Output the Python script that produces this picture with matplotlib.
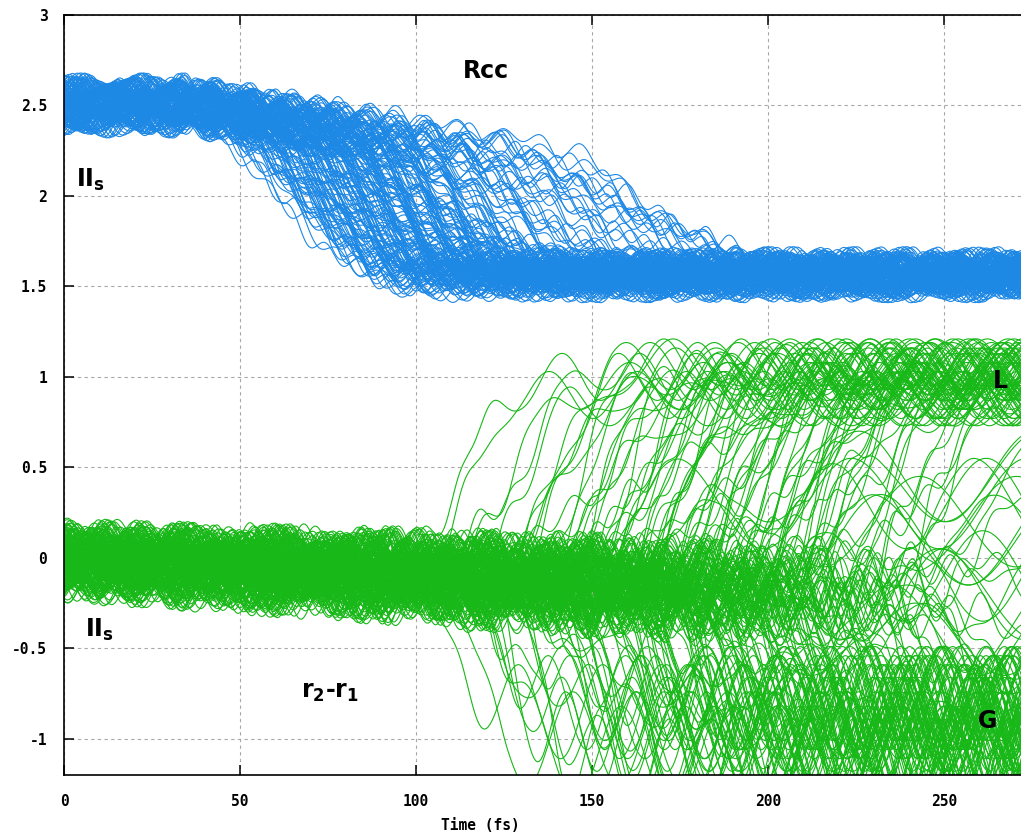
import numpy as np
import matplotlib
matplotlib.use('Agg')
import matplotlib.pyplot as plt

plt.rcParams['mathtext.fontset'] = 'dejavusans'

# time axis of the trajectories (fs)
t = np.arange(0, 272.5, 0.5)

# --- Rcc bundle (blue): onset of the C-C stretch drop and how long it takes (fs)
rcc_onset = [30, 33, 35, 37, 38, 40, 41, 42, 43, 44,
             45, 46, 47, 48, 49, 50, 51, 52, 53, 54,
             55, 56, 57, 58, 59, 60, 61, 62, 63, 64,
             65, 66, 67, 68, 69, 70, 71, 72, 73, 74,
             75, 76, 77, 78, 80, 82, 84, 86, 88, 90,
             92, 95, 98, 101, 105, 110, 115, 120, 127, 135]
rcc_width = [62, 60, 62, 58, 60, 60, 55, 62, 58, 60,
             55, 60, 58, 62, 55, 60, 58, 55, 62, 60,
             58, 55, 60, 62, 58, 55, 60, 58, 62, 55,
             60, 58, 55, 60, 62, 58, 55, 60, 58, 62,
             60, 58, 62, 60, 58, 62, 60, 65, 62, 60,
             65, 68, 70, 72, 85, 80, 100, 85, 95, 65]
rcc_high = [0.08, -0.06, 0.02, -0.10, 0.05, -0.02, 0.10, -0.08, 0.00, 0.04, -0.04, 0.07]
rcc_low = [0.05, -0.04, 0.00, 0.08, -0.07, 0.02, -0.02, 0.06, -0.05, 0.03]
rcc_start, rcc_end = 2.5, 1.56
rcc_sag, rcc_sag_from = 0.003, 35  # slow decline of the still-intact bond (per fs, from fs)

# --- r2-r1 bundle (green): time the trajectory leaves 0 and where it goes
# U -> L channel, D -> G channel, W -> keeps wandering
r21_split = [95, 100, 104, 108, 111, 114, 116, 118, 120, 122,
             124, 126, 127, 129, 130, 132, 133, 135, 136, 137,
             139, 140, 141, 142, 144, 145, 146, 147, 148, 150,
             151, 152, 153, 154, 155, 156, 157, 158, 159, 160,
             161, 162, 163, 164, 165, 166, 167, 168, 169, 170,
             171, 172, 173, 174, 175, 176, 177, 178, 179, 180,
             181, 182, 183, 184, 185, 186, 187, 188, 189, 190,
             191, 192, 193, 194, 195, 196, 197, 198, 199, 200,
             202, 203, 205, 206, 208, 209, 211, 213, 215, 217,
             219, 221, 223, 225, 227, 229, 232, 235, 238, 242]
r21_branch = ("UDUDDUDUDU" "DUDUWDUDUD" "UDUDUDWUDU" "DUDUDWUDUD" "UDDUDUWDUD"
              "DUDUDUDWUD" "UDUDWUDUDU" "DUDWUDUDUD" "UDWUDUDWDU" "DWUDWDUWDW")
r21_copy_delay = [-4, 4]
r21_offset = [0.07, -0.10, 0.00, 0.10, -0.05, 0.04, -0.12, 0.07, -0.02, 0.03, -0.07, 0.11, -0.14]
up_width = [45, 30, 55, 38, 60, 28, 50, 35]
down_width = [30, 22, 40, 26, 35, 20, 45]
up_level = [1.00, 0.90, 1.06, 0.95, 1.03, 0.86, 1.08]
down_level = [-0.85, -1.00, -0.75, -1.08, -0.92, -0.80, -1.15]
wander_level = [0.30, -0.40, 0.10, -0.20, 0.45, -0.50, 0.20, -0.10]

blue = '#1e88e5'
green = '#17b817'


def ramp(t0, d):
    s = np.clip((t - t0) / d, 0, 1)
    return s * s * (3 - 2 * s)


def wobble(k, p):
    ph = (k * 0.618034 + p * 0.1) % 1
    return np.sin(2 * np.pi * (t / p + ph))


fig = plt.figure(figsize=(10.21, 8.36), dpi=100)
ax = fig.add_axes([64 / 1021, 61 / 836, 957 / 1021, 760 / 836])

# blue bundle, three vibrational copies per onset
sag = rcc_sag * np.clip(t - rcc_sag_from, 0, None)
for i in range(len(rcc_onset)):
    for c in range(3):
        k = 3 * i + c
        hi = rcc_start + rcc_high[k % len(rcc_high)] - sag
        lo = rcc_end + rcc_low[k % len(rcc_low)]
        s = ramp(rcc_onset[i] + 2 * c, rcc_width[i])
        y = hi + (lo - hi) * s
        y = y + 0.045 * wobble(k, 9 + (k % 5) * 0.7) + 0.035 * wobble(k + 3, 24 + (k % 6) * 2)
        ax.plot(t, y, color=blue, lw=0.8)

# green bundle
nu = nd = nw = 0
for k0 in range(len(r21_split)):
    b = r21_branch[k0]
    for c, delay in enumerate(r21_copy_delay):
        k = 2 * k0 + c
        amp = 1 + t / 250
        pre = r21_offset[k % len(r21_offset)] - 0.0009 * t
        pre = pre + amp * (0.06 * wobble(k, 10 + (k % 4) * 0.8) + 0.05 * wobble(k + 5, 26 + (k % 5) * 2))
        ts = r21_split[k0] + delay
        if b == 'U':
            post = up_level[nu % len(up_level)] + 0.13 * wobble(k + 1, 22 + (k % 3) * 3)
            s = ramp(ts, up_width[nu % len(up_width)])
            nu += 1
        elif b == 'D':
            post = down_level[nd % len(down_level)] + 0.26 * wobble(k + 2, 20 + (k % 4) * 2)
            s = ramp(ts, down_width[nd % len(down_width)])
            nd += 1
        else:
            post = wander_level[nw % len(wander_level)] + 0.25 * wobble(k + 4, 45 + (k % 3) * 5)
            s = ramp(ts, 50)
            nw += 1
        y = pre * (1 - s) + post * s
        y = np.where(y > 1.21, np.nan, y)
        ax.plot(t, y, color=green, lw=0.8)

ax.set_xlim(0, 957 / 3.52)
ax.set_ylim(-1.2, 3)
ax.set_xticks([0, 50, 100, 150, 200, 250])
ax.set_yticks([-1, -0.5, 0, 0.5, 1, 1.5, 2, 2.5, 3])
ax.set_yticklabels(['-1', '-0.5', '0', '0.5', '1', '1.5', '2', '2.5', '3'])
ax.grid(True, color='#a8a8a8', linestyle=(0, (3, 3)), linewidth=0.8)
ax.set_axisbelow(True)
ax.spines['right'].set_visible(False)
for sp in ['left', 'bottom', 'top']:
    ax.spines[sp].set_linewidth(1.2)
ax.tick_params(axis='both', direction='in', length=7, width=1.1, top=True, right=False)
ax.tick_params(axis='y', pad=12)
ax.tick_params(axis='x', pad=14)
for lab in ax.get_xticklabels() + ax.get_yticklabels():
    lab.set_fontfamily('DejaVu Sans Mono')
    lab.set_fontweight('bold')
    lab.set_fontsize(10.5)

fig.text(480 / 1021, 1 - 826 / 836, 'Time (fs)', family='DejaVu Sans Mono',
         weight='bold', fontsize=10.5, ha='center', va='center')

lbl = dict(fontsize=17, weight='bold', ha='center', va='center', color='black')
ax.text(120, 2.69, 'Rcc', **lbl)
ax.text(7.5, 2.09, r'$\mathbf{II}_{\mathbf{s}}$', **lbl)
ax.text(10.0, -0.40, r'$\mathbf{II}_{\mathbf{s}}$', **lbl)
ax.text(75.5, -0.74, r'$\mathbf{r}_{\mathbf{2}}$-$\mathbf{r}_{\mathbf{1}}$', **lbl)
ax.text(266, 0.98, 'L', **lbl)
ax.text(262.5, -0.90, 'G', **lbl)

fig.savefig('out.png', dpi=100)
